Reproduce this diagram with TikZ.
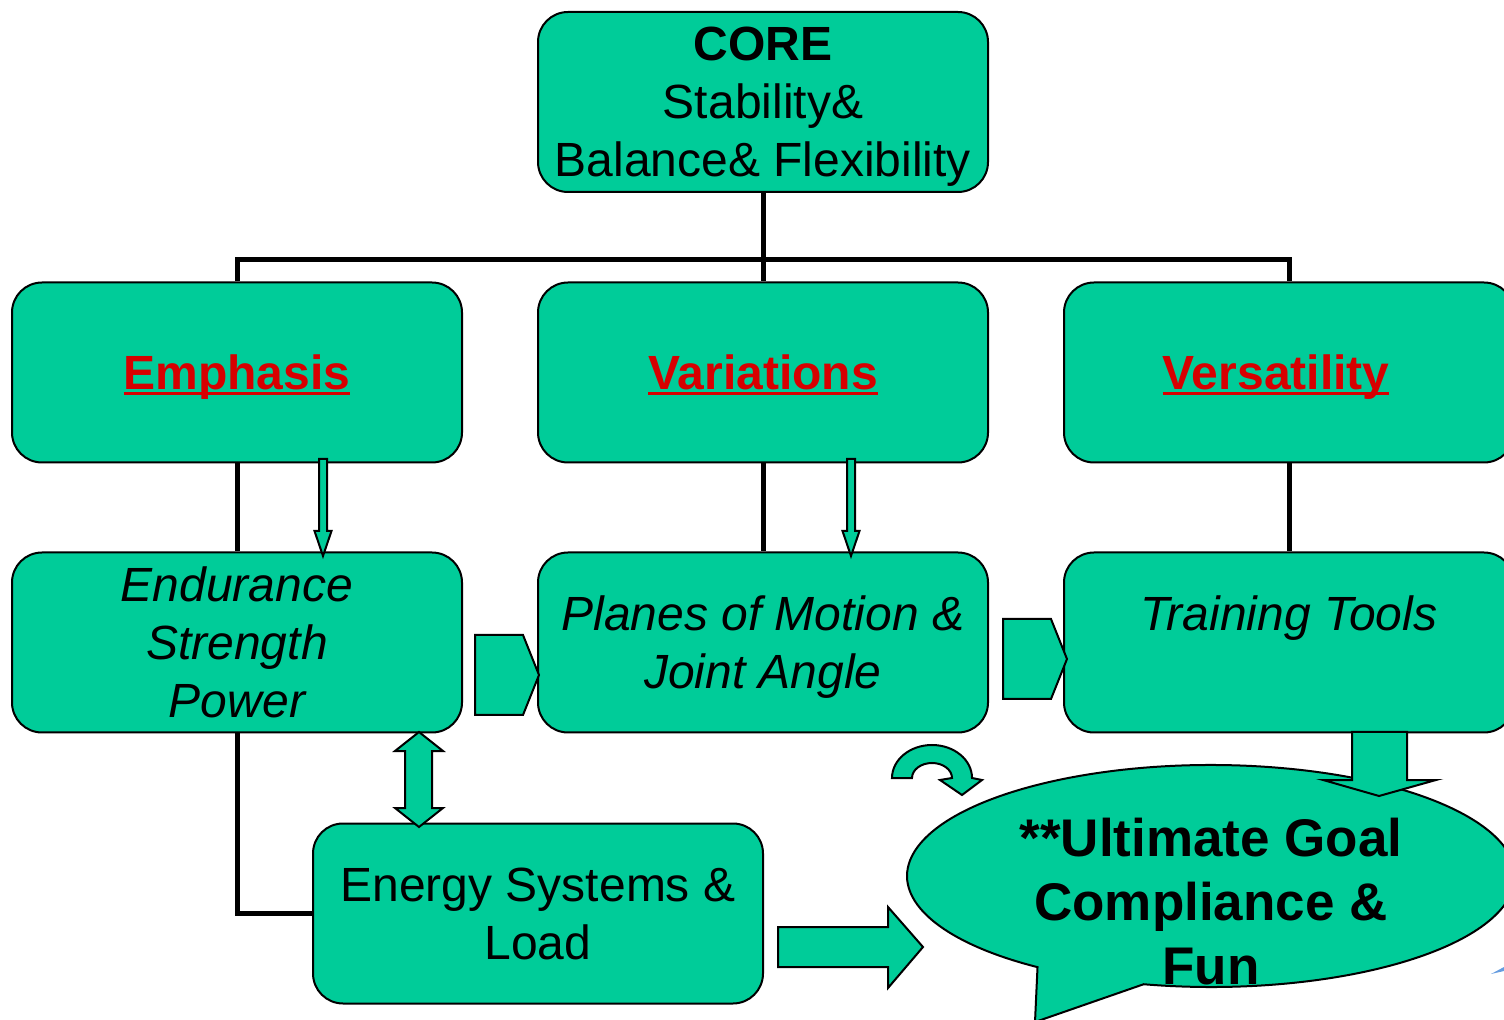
\documentclass[tikz,border=0pt]{standalone}
\usepackage{fontspec}
\setmainfont{Liberation Sans}
\usetikzlibrary{calc}
\definecolor{boxgreen}{RGB}{0,204,153}
\definecolor{ttred}{RGB}{215,0,0}
\newcommand\redul[1]{\setbox0\hbox{#1}\rlap{\rule[-2.4pt]{\wd0}{1.3pt}}\box0}
\begin{document}
\begin{tikzpicture}[x=0.5pt,y=0.5pt,
  box/.style={draw=black, line width=1pt, fill=boxgreen, rounded corners=15pt,
    minimum width=225pt, minimum height=90pt, inner sep=0pt, align=center,
    text depth=0pt, font=\fontsize{24}{29}\selectfont},
  head/.style={font=\fontsize{24}{29}\selectfont\bfseries, text=ttred},
  ital/.style={font=\fontsize{24}{29}\selectfont\itshape},
  conn/.style={line width=2.5pt, draw=black},
  garrow/.style={draw=black, line width=1pt, fill=boxgreen, line join=miter}]
\useasboundingbox (0,0) rectangle (1504,-1020);
\clip (0,0) rectangle (1504,-1020);

\coordinate (j) at (763,-260);
\node[box] (core) at (763,-102) {\textbf{CORE}\\Stability\&\\Balance\& Flexibility};
\node[box, head] (emph) at (237,-372.5) {\redul{Emphasis}};
\node[box, head] (var) at (763,-372.5) {\redul{Variations}};
\node[box, head] (vers) at (1289,-372.5) {\redul{Versatility}\hspace*{13pt}};
\node[box, ital] (endu) at (237,-642.5) {Endurance\\Strength\\Power};
\node[box, ital] (plan) at (763,-642.5) {Planes of Motion \&\\Joint Angle};
\node[box, ital] (tools) at (1289,-642.5) {Training Tools\\~};
\node[box] (energy) at (538,-913.5) {Energy Systems \&\\Load};

\draw[conn] (core.south) -- (j);
\draw[conn] (emph.north) -- (emph.north |- j) -- (vers.north |- j) -- (vers.north);
\draw[conn] (j) -- (var.north);
\draw[conn] (emph.south) -- (endu.north);
\draw[conn] (var.south) -- (plan.north);
\draw[conn] (vers.south) -- (tools.north);
\draw[conn] (endu.south) |- (energy.west);

% thin down arrows
\draw[garrow] (319,-459) -- (327,-459) -- (327,-531) -- (331.5,-531) -- (323,-556) -- (314.5,-531) -- (319,-531) -- cycle;
\draw[garrow] (847,-459) -- (855,-459) -- (855,-531) -- (859.5,-531) -- (851,-556) -- (842.5,-531) -- (847,-531) -- cycle;

% chevron block arrows
\draw[garrow] (475,-635) -- (523,-635) -- (539,-675) -- (523,-715) -- (475,-715) -- cycle;
\draw[garrow] (1003,-619) -- (1051,-619) -- (1067,-659) -- (1051,-699) -- (1003,-699) -- cycle;

% double arrow
\draw[garrow] (419,-732) -- (443,-751) -- (432,-751) -- (432,-808) -- (443,-808) -- (419,-827)
  -- (395,-808) -- (405,-808) -- (405,-751) -- (395,-751) -- cycle;

% speech bubble
\draw[garrow] (1211,-876) ++(257.2:304 and 111)
  arc[start angle=257.2, end angle=595.2, x radius=304, y radius=111]
  -- (1035,-1022) -- cycle;
\node[font=\fontsize{26.5}{32}\selectfont\bfseries, align=center] (goal) at (1211,-901.5)
  {**Ultimate Goal\\Compliance \&\\Fun};

% right block arrow
\draw[garrow] (778,-927) -- (888,-927) -- (888,-907) -- (923,-947) -- (888,-988) -- (888,-967) -- (778,-967) -- cycle;

% down block arrow
\draw[garrow] (1352,-732) -- (1407,-732) -- (1407,-780) -- (1436,-780) -- (1379,-796) -- (1323,-780) -- (1352,-780) -- cycle;

% curved arrow
\draw[garrow] (892,-778) arc[start angle=180, end angle=0, x radius=40, y radius=33]
  -- (982,-780) -- (962,-795) -- (940,-780) -- (952,-778)
  arc[start angle=0, end angle=180, x radius=20, y radius=15] -- cycle;

% background fragment
\fill[blue!55!cyan!80!black, opacity=0.6] (1491,-974) -- (1504,-967) -- (1504,-971) -- cycle;
\end{tikzpicture}
\end{document}
